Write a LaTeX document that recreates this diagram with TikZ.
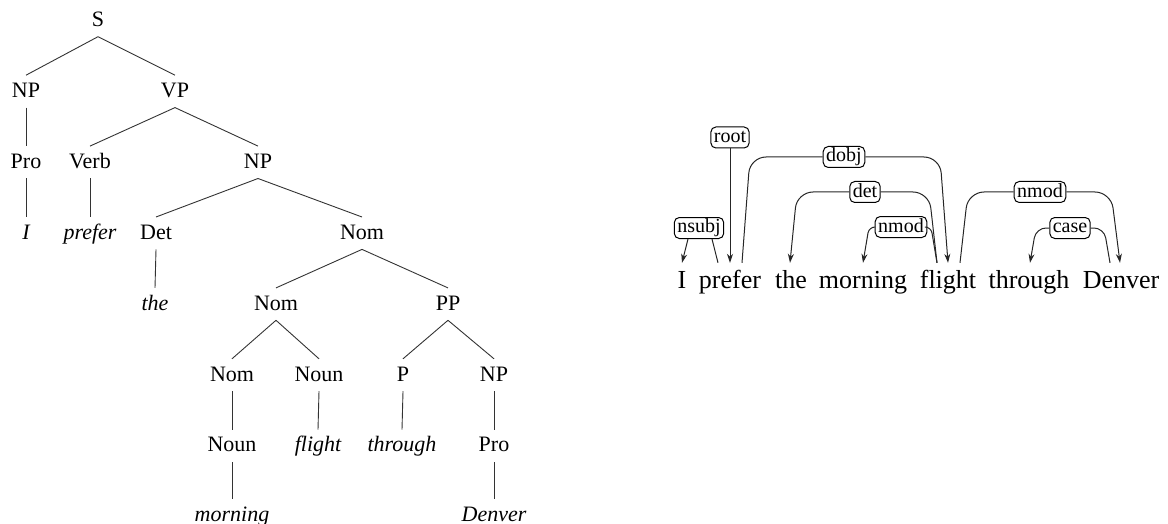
\documentclass[tikz,border=0pt]{standalone}
\usepackage{fontspec}
\setmainfont{Liberation Serif}
\usetikzlibrary{positioning,calc,arrows.meta}

\tikzset{
  cat/.style={anchor=base, font=\fontsize{22}{26}\selectfont, text height=15pt, text depth=3pt, inner xsep=1pt, inner ysep=7pt},
  leaf/.style={cat, font=\fontsize{22}{26}\selectfont\itshape},
  branch/.style={draw=black!80, line width=0.9pt},
  word/.style={anchor=base, font=\fontsize{26}{30}\selectfont, text height=19pt, text depth=6pt, inner xsep=0pt, inner ysep=6pt},
  deplabel/.style={draw, rounded corners=5pt, line width=1pt, font=\fontsize{20}{23}\selectfont, text height=13pt, text depth=3pt, inner xsep=3pt, inner ysep=2.5pt},
  arc/.style={draw=black!85, line width=1pt, rounded corners=16pt},
  head/.style={-{Stealth[length=9pt,width=6pt]}}
}

\begin{document}
\begin{tikzpicture}[x=1pt, y=-1pt]
    \useasboundingbox (0,0) rectangle (1168,524);

    % Constituency tree
    \node[cat] (s) at (98,26.5) {S};
    \node[cat] (np1) at (26,97.4) {NP};
    \node[cat] (vp) at (175,97.4) {VP};
    \node[cat] (pro1) at (26,168.3) {Pro};
    \node[cat] (verb) at (90,168.3) {Verb};
    \node[cat] (np2) at (258,168.3) {NP};
    \node[leaf] (i) at (26,239.2) {I};
    \node[leaf] (prefer) at (90,239.2) {prefer};
    \node[cat] (det) at (156,239.2) {Det};
    \node[cat] (nom1) at (362,239.2) {Nom};
    \node[leaf] (the) at (155,310.1) {the};
    \node[cat] (nom2) at (276,310.1) {Nom};
    \node[cat] (pp) at (448,310.1) {PP};
    \node[cat] (nom3) at (232,381) {Nom};
    \node[cat] (noun1) at (319,381) {Noun};
    \node[cat] (p) at (403,381) {P};
    \node[cat] (np3) at (494,381) {NP};
    \node[cat] (noun2) at (232,451.9) {Noun};
    \node[leaf] (flight) at (318,451.9) {flight};
    \node[leaf] (through) at (402,451.9) {through};
    \node[cat] (pro2) at (494,451.9) {Pro};
    \node[leaf] (morning) at (232,521.5) {morning};
    \node[leaf] (denver) at (494,521.5) {Denver};

    \foreach \a/\b in {s/np1, s/vp, np1/pro1, vp/verb, vp/np2, pro1/i, verb/prefer,
                       np2/det, np2/nom1, det/the, nom1/nom2, nom1/pp, nom2/nom3,
                       nom2/noun1, pp/p, pp/np3, nom3/noun2, noun1/flight,
                       p/through, np3/pro2, noun2/morning, pro2/denver}
        \draw[branch] (\a.south) -- (\b.north);

    % Dependency parse
    \node[word] (wi) at (682,288) {I};
    \node[word] (wprefer) at (730,288) {prefer};
    \node[word] (wthe) at (791,288) {the};
    \node[word] (wmorning) at (863,288) {morning};
    \node[word] (wflight) at (948,288) {flight};
    \node[word] (wthrough) at (1029,288) {through};
    \node[word] (wdenver) at (1121,288) {Denver};

    \node[deplabel] (lroot) at (730,137.5) {root};
    \node[deplabel] (lnsubj) at (699,228) {nsubj};
    \node[deplabel] (ldobj) at (844,157) {dobj};
    \node[deplabel] (ldet) at (865,192) {det};
    \node[deplabel] (lnmod) at (901,227) {nmod};
    \node[deplabel] (lnmodb) at (1040,192) {nmod};
    \node[deplabel] (lcase) at (1070,228) {case};

    % arc feet
    \coordinate (root-h) at (wprefer.north);
    \coordinate (nsubj-h) at ([xshift=-12pt]wprefer.north);
    \coordinate (dobj-h) at ([xshift=12pt]wprefer.north);
    \coordinate (dobj-d) at (wflight.north);
    \coordinate (det-d) at ([xshift=-1pt]wthe.north);
    \coordinate (det-h) at ([xshift=-11pt]wflight.north);
    \coordinate (nmod-d) at (wmorning.north);
    \coordinate (nmod-h) at ([xshift=-11pt]wflight.north);
    \coordinate (nmodb-h) at ([xshift=12pt]wflight.north);
    \coordinate (nmodb-d) at ([xshift=-1pt]wdenver.north);
    \coordinate (case-d) at ([xshift=1pt]wthrough.north);
    \coordinate (case-h) at ([xshift=-11pt]wdenver.north);

    \draw[arc,head] (lroot) -- (root-h);
    \draw[arc,head] ([xshift=-11pt]lnsubj.south) -- (wi.north);
    \draw[arc] ([xshift=13pt]lnsubj.south) -- (nsubj-h);

    \draw[arc] (ldobj.west) -- ($(ldobj.west -| dobj-h)+(8,0)$) -- (dobj-h);
    \draw[arc,head] (ldobj.east) -- ($(ldobj.east -| dobj-d)+(-8,0)$) -- (dobj-d);
    \draw[arc,head] (ldet.west) -- ($(ldet.west -| det-d)+(7,0)$) -- (det-d);
    \draw[arc] (ldet.east) -- ($(ldet.east -| det-h)+(-8,0)$) -- (det-h);
    \draw[arc,head,rounded corners=6pt] (lnmod.west) -- ($(lnmod.west -| nmod-d)+(6,0)$) -- (nmod-d);
    \draw[arc,rounded corners=6pt] (lnmod.east) -- ($(lnmod.east -| nmod-h)+(-6,0)$) -- (nmod-h);
    \draw[arc] (lnmodb.west) -- ($(lnmodb.west -| nmodb-h)+(8,0)$) -- (nmodb-h);
    \draw[arc,head] (lnmodb.east) -- ($(lnmodb.east -| nmodb-d)+(-9,0)$) -- (nmodb-d);
    \draw[arc,head,rounded corners=10pt] (lcase.west) -- ($(lcase.west -| case-d)+(6,0)$) -- (case-d);
    \draw[arc,rounded corners=10pt] (lcase.east) -- ($(lcase.east -| case-h)+(-6,0)$) -- (case-h);
\end{tikzpicture}
\end{document}
